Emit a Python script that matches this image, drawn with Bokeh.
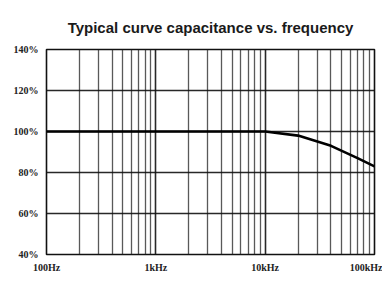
from bokeh.plotting import figure
from bokeh.models import FixedTicker
from bokeh.embed import file_html
from bokeh.resources import INLINE

title_text = "Typical curve capacitance vs. frequency"
freq = [100, 1000, 10000, 20000, 40000, 70000, 100000]
capacitance = [100, 100, 100, 98, 93, 87, 83]
x_major = [100, 1000, 10000, 100000]
x_labels = ["100Hz", "1kHz", "10kHz", "100kHz"]
y_ticks = [40, 60, 80, 100, 120, 140]
y_labels = ["40%", "60%", "80%", "100%", "120%", "140%"]

x_minor = [m * d for d in (100, 1000, 10000) for m in range(2, 10)]

p = figure(frame_width=328, frame_height=205, x_axis_type="log",
           x_range=(100, 100000), y_range=(40, 140),
           output_backend="svg", toolbar_location=None,
           min_border_left=46, min_border_right=8,
           min_border_top=49, min_border_bottom=19)

p.title.text = title_text
p.title.align = "center"
p.title.vertical_align = "top"
p.title.text_font = "Liberation Sans"
p.title.text_font_size = "15px"
p.title.text_font_style = "bold"
p.title.text_color = "#1a1a1a"
p.title.standoff = 23

p.xaxis.ticker = FixedTicker(ticks=x_major, minor_ticks=x_minor)
p.xaxis.major_label_overrides = {t: l for t, l in zip(x_major, x_labels)}
p.yaxis.ticker = FixedTicker(ticks=y_ticks)
p.yaxis.major_label_overrides = {t: l for t, l in zip(y_ticks, y_labels)}

for ax in (p.xaxis, p.yaxis):
    ax.axis_line_color = None
    ax.major_tick_line_color = None
    ax.minor_tick_line_color = None
    ax.major_tick_out = 0
    ax.major_tick_in = 0
    ax.minor_tick_out = 0
    ax.minor_tick_in = 0
    ax.major_label_text_font = "Liberation Serif"
    ax.major_label_text_font_size = "10px"
    ax.major_label_text_font_style = "bold"
    ax.major_label_text_color = "#222222"
p.xaxis.major_label_standoff = 7
p.yaxis.major_label_standoff = 8

p.xgrid.grid_line_color = "#111111"
p.xgrid.grid_line_width = 1.6
p.xgrid.grid_line_alpha = 0.9
p.xgrid.minor_grid_line_color = "#222222"
p.xgrid.minor_grid_line_width = 1.3
p.xgrid.minor_grid_line_alpha = 0.75
p.ygrid.grid_line_color = "#111111"
p.ygrid.grid_line_width = 1.6
p.ygrid.grid_line_alpha = 0.9

p.outline_line_color = "#111111"
p.outline_line_width = 1.6

p.line(freq, capacitance, line_color="black", line_width=2.6)

open("out.html", "w").write(file_html(p, INLINE))
